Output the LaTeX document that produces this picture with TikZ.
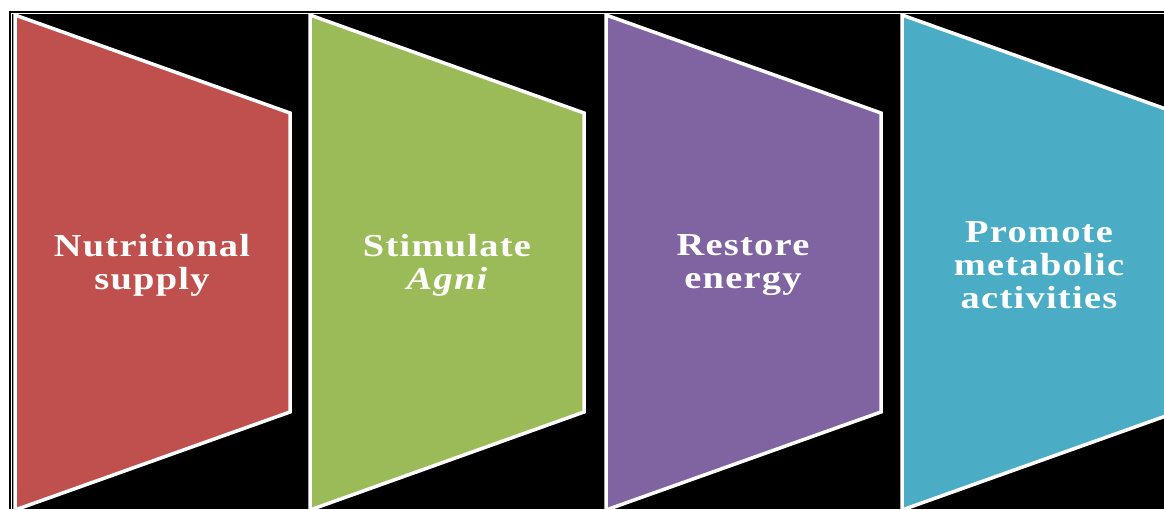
\documentclass[tikz,border=0pt]{standalone}
\usepackage{fontspec}
\newfontfamily\lblfont[FakeStretch=1.2,LetterSpace=4]{Liberation Serif}
\definecolor{cRed}{HTML}{C0504D}
\definecolor{cGreen}{HTML}{9BBB59}
\definecolor{cPurple}{HTML}{8064A2}
\definecolor{cBlue}{HTML}{4BACC6}
\tikzset{
  chev/.style={draw=white, line width=3.5pt, line join=miter},
  lbl/.style={text=white, align=center, font=\lblfont\bfseries\fontsize{32}{33}\selectfont, inner sep=0pt}
}
\begin{document}
\begin{tikzpicture}[x=1pt,y=-1pt]
\useasboundingbox (0,0) rectangle (1164,509);
\fill[white] (0,0) rectangle (1164,509);
\draw[black, line width=2pt] (9.5,509) -- (9.5,12) -- (1164,12);
\fill[black] (12,14) rectangle (1164,509);
\begin{scope}
\clip (12,14) rectangle (1164,509);
\draw[chev, fill=cRed]    (15,15) -- (290,113) -- (290,412) -- (15,510) -- cycle;
\draw[chev, fill=cGreen]  (310,15) -- (584,113) -- (584,412) -- (310,510) -- cycle;
\draw[chev, fill=cPurple] (606,15) -- (881,113) -- (881,412) -- (606,510) -- cycle;
\draw[chev, fill=cBlue]   (902,15) -- (1177,113) -- (1177,412) -- (902,510) -- cycle;
\end{scope}
\node[lbl] (t1) at (152,265) {Nutritional\\supply};
\node[lbl] (t2) at (447,265) {Stimulate\\\itshape Agni};
\node[lbl] (t3) at (743,265) {Restore\\energy};
\node[lbl] (t4) at (1039,265) {Promote\\metabolic\\activities};
\end{tikzpicture}
\end{document}
